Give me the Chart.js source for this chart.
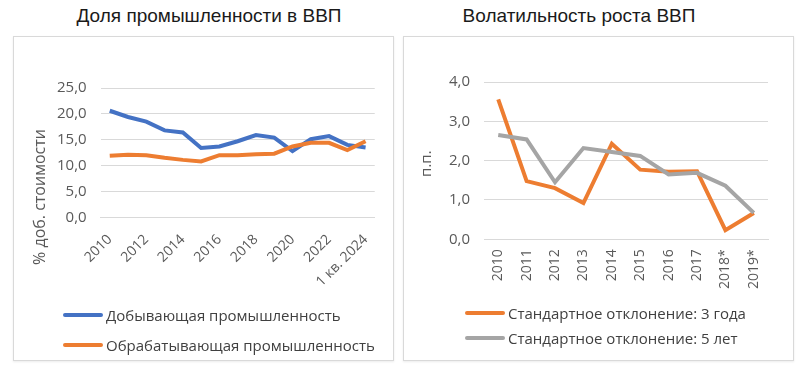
<!DOCTYPE html>
<html>
<head>
<meta charset="utf-8">
<script src="https://cdn.jsdelivr.net/npm/chart.js@4.4.1/dist/chart.umd.min.js"></script>
<style>
  body { margin: 0; width: 800px; height: 366px; background: #fff; position: relative; overflow: hidden; font-family: "Open Sans", sans-serif; }
  .ttl { position: absolute; top: 5px; width: 380px; text-align: center; font-family: "Liberation Sans", Arial, sans-serif; font-size: 19px; color: #1a1a1a; }
  .box { position: absolute; top: 36px; height: 323px; border: 1px solid #d9d9d9; box-shadow: 0 1px 2px rgba(0,0,0,0.08); }
  .cv { position: absolute; top: 37px; }
  .lg { position: absolute; font-size: 15px; color: #404040; }
  .lg .it { display: flex; align-items: center; white-space: nowrap; }
  .lg .ln { display: inline-block; width: 40px; height: 4px; border-radius: 2px; margin-right: 3px; }
</style>
</head>
<body>
<div class="ttl" style="left:19px">Доля промышленности в ВВП</div>
<div class="ttl" style="left:389px">Волатильность роста ВВП</div>
<div class="box" style="left:13px;width:379px"></div>
<div class="box" style="left:403px;width:389px"></div>
<div class="cv" style="left:14px;width:378px;height:269px"><canvas id="shareChart"></canvas></div>
<div class="cv" style="left:404px;width:388px;height:267px"><canvas id="volChart"></canvas></div>
<div class="lg" id="shareLegend" style="left:63px;top:300px"></div>
<div class="lg" id="volLegend" style="left:465px;top:300px"></div>

<script>
// --- data ---
const shareYears = ['2010', '2011', '2012', '2013', '2014', '2015', '2016', '2017', '2018', '2019', '2020', '2021', '2022', '2023', '1 кв. 2024'];
const miningShare = [20.6, 19.4, 18.5, 16.8, 16.4, 13.4, 13.7, 14.7, 15.9, 15.4, 12.8, 15.1, 15.7, 14.0, 13.5];
const manufShare = [11.9, 12.1, 12.0, 11.5, 11.1, 10.8, 12.0, 12.0, 12.2, 12.3, 13.7, 14.4, 14.4, 13.0, 14.7];

const volYears = ['2010', '2011', '2012', '2013', '2014', '2015', '2016', '2017', '2018*', '2019*'];
const sd3Years = [3.56, 1.48, 1.30, 0.92, 2.43, 1.77, 1.72, 1.73, 0.23, 0.67];
const sd5Years = [2.65, 2.54, 1.45, 2.32, 2.22, 2.12, 1.65, 1.69, 1.36, 0.67];

const BLUE = '#4472c4';
const ORANGE = '#ed7d31';
const GRAY = '#a5a5a5';
const TICK = '#595959';
const GRID = '#d9d9d9';

// rotated y-axis title drawn at a fixed x, centred on plot (+ x labels if asked)
const sideTitle = {
  id: 'sideTitle',
  afterDraw(chart, args, opts) {
    if (!opts.text) return;
    const { ctx, chartArea } = chart;
    const bottom = opts.withLabels ? chart.scales.x.bottom : chartArea.bottom;
    const cy = (chartArea.top + bottom) / 2 + (opts.shift || 0);
    ctx.save();
    ctx.translate(opts.x, cy);
    ctx.rotate(-Math.PI / 2);
    ctx.font = (opts.size || 15) + 'px "Open Sans"';
    ctx.fillStyle = TICK;
    ctx.textAlign = 'center';
    ctx.textBaseline = 'middle';
    ctx.fillText(opts.text, 0, 0);
    ctx.restore();
  },
};

function lineSet(label, data, color, order) {
  return {
    label,
    data,
    borderColor: color,
    backgroundColor: color,
    borderWidth: 4,
    pointRadius: 0,
    tension: 0,
    order,
  };
}

function fmt(v) {
  return Number(v).toFixed(1).replace('.', ',');
}

function renderLegend(id, datasets, rowH) {
  const el = document.getElementById(id);
  el.innerHTML = datasets
    .map((d) => `<div class="it" style="height:${rowH}px"><span class="ln" style="background:${d.borderColor}"></span>${d.label}</div>`)
    .join('');
}

Chart.defaults.font.family = '"Open Sans", sans-serif';
Chart.defaults.font.size = 15;
Chart.defaults.color = TICK;

const shareSets = [
  lineSet('Добывающая промышленность', miningShare, BLUE, 1),
  lineSet('Обрабатывающая промышленность', manufShare, ORANGE, 0),
];

new Chart(document.getElementById('shareChart'), {
  type: 'line',
  data: { labels: shareYears, datasets: shareSets },
  plugins: [sideTitle],
  options: {
    responsive: true,
    maintainAspectRatio: false,
    animation: false,
    layout: { padding: { top: 51, left: 29, right: 16, bottom: 2 } },
    plugins: {
      legend: { display: false },
      tooltip: { enabled: false },
      sideTitle: { text: '% доб. стоимости', x: 26, size: 16, withLabels: true, shift: 1 },
    },
    scales: {
      x: {
        offset: true,
        grid: { display: false, drawTicks: false },
        border: { color: GRID },
        ticks: {
          autoSkip: false,
          minRotation: 45,
          maxRotation: 45,
          padding: 14,
          font: { size: 14 },
          callback: (v, i) => (i % 2 === 0 ? shareYears[i] : ''),
        },
      },
      y: {
        min: 0,
        max: 25,
        ticks: { stepSize: 5, padding: 14, callback: fmt },
        grid: { color: GRID, drawTicks: false },
        border: { display: false },
      },
    },
  },
});

const volSets = [
  lineSet('Стандартное отклонение: 3 года', sd3Years, ORANGE, 1),
  lineSet('Стандартное отклонение: 5 лет', sd5Years, GRAY, 0),
];

new Chart(document.getElementById('volChart'), {
  type: 'line',
  data: { labels: volYears, datasets: volSets },
  plugins: [sideTitle],
  options: {
    responsive: true,
    maintainAspectRatio: false,
    animation: false,
    layout: { padding: { top: 45, left: 31, right: 24, bottom: 5 } },
    plugins: {
      legend: { display: false },
      tooltip: { enabled: false },
      sideTitle: { text: 'п.п.', x: 23, withLabels: false, shift: 3 },
    },
    scales: {
      x: {
        offset: true,
        grid: { display: false, drawTicks: false },
        border: { color: GRID },
        ticks: { autoSkip: false, minRotation: 90, maxRotation: 90, padding: 10, font: { size: 14 } },
      },
      y: {
        min: 0,
        max: 4,
        ticks: { stepSize: 1, padding: 14, callback: fmt },
        grid: { color: GRID, drawTicks: false },
        border: { display: false },
      },
    },
  },
});

renderLegend('shareLegend', shareSets, 30);
renderLegend('volLegend', volSets, 25);
</script>
</body>
</html>
